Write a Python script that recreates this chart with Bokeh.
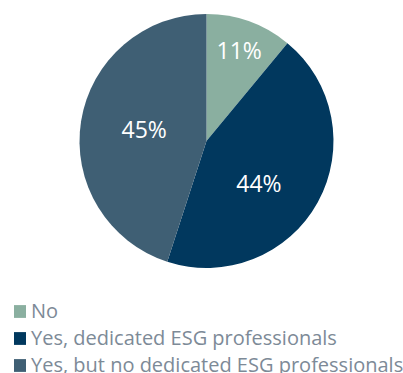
import math
from bokeh.plotting import figure
from bokeh.models import ColumnDataSource, Legend, LegendItem
from bokeh.core.properties import value
from bokeh.embed import file_html
from bokeh.resources import INLINE

categories = ["No", "Yes, dedicated ESG professionals", "Yes, but no dedicated ESG professionals"]
shares = [11, 44, 45]
labels = ["11%", "44%", "45%"]
colors = ["#8AAFA0", "#01385E", "#3F5F74"]

R = 127
label_r = [0.76, 0.53, 0.5]
label_shift = [0.0, -10.0, -2.0]  # degrees

total = sum(shares)
starts, ends, lx, ly = [], [], [], []
cum = 0
for i, s in enumerate(shares):
    a0 = math.pi / 2 - cum / total * 2 * math.pi
    cum += s
    a1 = math.pi / 2 - cum / total * 2 * math.pi
    starts.append(a0)
    ends.append(a1)
    mid = (a0 + a1) / 2 + math.radians(label_shift[i])
    lx.append(R * label_r[i] * math.cos(mid))
    ly.append(R * label_r[i] * math.sin(mid))

src = ColumnDataSource(dict(cat=categories, start=starts, end=ends, color=colors,
                            lx=lx, ly=ly, lab=labels))

p = figure(width=403, height=373, x_range=(-206, 197), y_range=(-232.5, 140.5),
           output_backend="svg", toolbar_location=None, min_border=0)
p.axis.visible = False
p.grid.visible = False
p.outline_line_color = None
p.background_fill_color = "white"

r = p.wedge(x=0, y=0, radius=R, start_angle="start", end_angle="end",
            direction="clock", color="color", line_color=None, source=src)

p.text(x="lx", y="ly", text="lab", source=src, text_color="white",
       text_font=value("Open Sans"), text_font_size="23px",
       text_align="center", text_baseline="middle")

items = [LegendItem(label=categories[i], renderers=[r], index=i) for i in range(3)]
legend = Legend(items=items, location=(12, -5), orientation="vertical",
                glyph_width=15, glyph_height=16, label_height=20, spacing=0,
                label_standoff=4, padding=0, margin=0,
                label_text_font="Open Sans", label_text_font_size="20px",
                label_text_color="#7D8A97", border_line_color=None,
                background_fill_alpha=0)
p.add_layout(legend)

open("out.html", "w").write(file_html(p, INLINE))
